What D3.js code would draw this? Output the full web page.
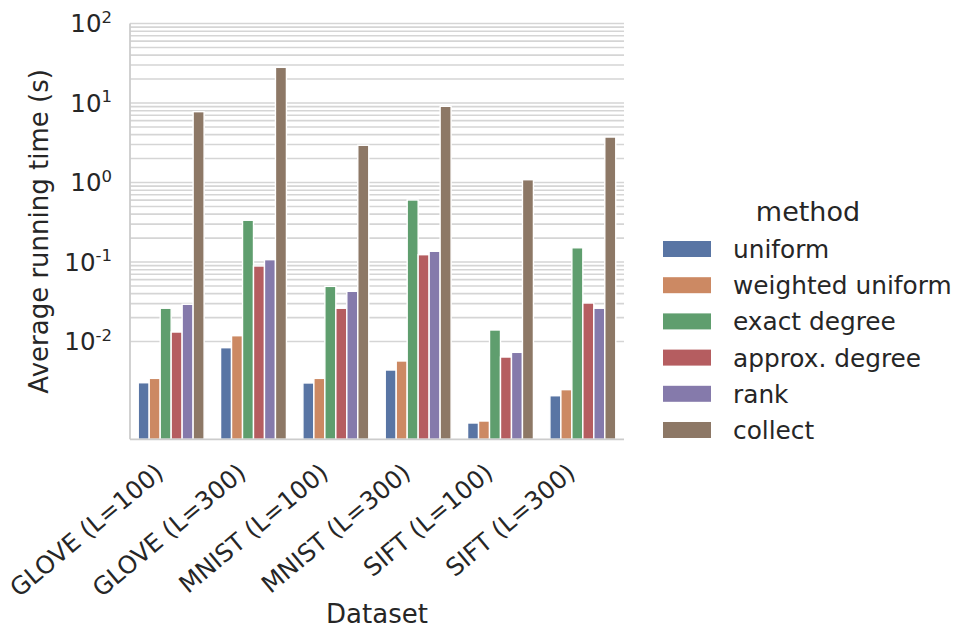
<!DOCTYPE html>
<html>
<head>
<meta charset="utf-8">
<script src="https://cdn.jsdelivr.net/npm/d3@7"></script>
<style>
  html, body { margin: 0; padding: 0; background: #fff; }
  svg { display: block; font-family: "DejaVu Sans", sans-serif; }
</style>
</head>
<body>
<svg id="chart" width="954" height="629"></svg>
<script>
// Dataset groups on the x axis
const datasets = ["GLOVE (L=100)", "GLOVE (L=300)", "MNIST (L=100)", "MNIST (L=300)", "SIFT (L=100)", "SIFT (L=300)"];
// Methods (hue)
const methods = ["uniform", "weighted uniform", "exact degree", "approx. degree", "rank", "collect"];
const methodColors = ["#5975a4", "#cc8963", "#5f9e6e", "#b55d60", "#857aab", "#8d7866"];

// Average running time (s) per method, in dataset order
const uniformTimes         = [0.00303, 0.00836, 0.00301, 0.00438, 0.000944, 0.00208];
const weightedUniformTimes = [0.00344, 0.01183, 0.00344, 0.00569, 0.00100, 0.00248];
const exactDegreeTimes     = [0.0262, 0.335, 0.0494, 0.603, 0.01396, 0.151];
const approxDegreeTimes    = [0.01316, 0.0891, 0.0262, 0.1236, 0.00638, 0.0305];
const rankTimes            = [0.0294, 0.107, 0.0428, 0.1364, 0.00731, 0.0262];
const collectTimes         = [7.78, 28.1, 2.94, 9.09, 1.084, 3.73];

// Labelled decades on the y axis (powers of ten)
const yTickExponents = [-2, -1, 0, 1, 2];

const seriesValues = [uniformTimes, weightedUniformTimes, exactDegreeTimes, approxDegreeTimes, rankTimes, collectTimes];

const svg = d3.select("#chart");
const textColor = "#262626";
const gridColor = "#d5d5d5";

const plot = { left: 130, right: 624, top: 23.5, bottom: 439.3 };

const y = d3.scaleLog()
  .domain([Math.pow(10, -3.23), 100])
  .range([plot.bottom, plot.top]);

const x = d3.scaleBand()
  .domain(datasets)
  .range([plot.left, plot.right])
  .paddingInner(0.2)
  .paddingOuter(0.1);

const xInner = d3.scaleBand()
  .domain(methods)
  .range([0, x.bandwidth()]);

const color = d3.scaleOrdinal().domain(methods).range(methodColors);

// Grid: major and minor log lines from 10^-2 upward
const gridValues = y.ticks().filter(v => v >= 0.0099 && v <= 100.01);
svg.append("g")
  .selectAll("line")
  .data(gridValues)
  .join("line")
  .attr("x1", plot.left)
  .attr("x2", plot.right)
  .attr("y1", d => y(d))
  .attr("y2", d => y(d))
  .attr("stroke", gridColor)
  .attr("stroke-width", 1.6);

// Bars
const rows = [];
datasets.forEach((ds, i) => {
  methods.forEach((m, j) => {
    rows.push({ dataset: ds, method: m, value: seriesValues[j][i] });
  });
});

svg.append("g")
  .selectAll("rect")
  .data(rows)
  .join("rect")
  .attr("x", d => x(d.dataset) + xInner(d.method))
  .attr("width", xInner.bandwidth())
  .attr("y", d => y(d.value))
  .attr("height", d => plot.bottom - y(d.value))
  .attr("fill", d => color(d.method))
  .attr("stroke", "#ffffff")
  .attr("stroke-width", 1.4);

// Spines
svg.append("line")
  .attr("x1", plot.left).attr("x2", plot.left)
  .attr("y1", plot.top).attr("y2", plot.bottom)
  .attr("stroke", "#cccccc").attr("stroke-width", 1.8);
svg.append("line")
  .attr("x1", plot.left).attr("x2", plot.right)
  .attr("y1", plot.bottom).attr("y2", plot.bottom)
  .attr("stroke", "#cccccc").attr("stroke-width", 1.8);

// Y tick labels as 10 with superscript exponent
const yTicks = svg.append("g")
  .selectAll("text")
  .data(yTickExponents)
  .join("text")
  .attr("x", 112)
  .attr("y", d => y(Math.pow(10, d)) + 8.8)
  .attr("text-anchor", "end")
  .attr("fill", textColor)
  .attr("font-size", 24.5);
yTicks.append("tspan").text("10");
yTicks.append("tspan")
  .attr("font-size", 16.5)
  .attr("dy", -9.5)
  .text(d => String(d));

// X tick labels, rotated
svg.append("g")
  .selectAll("text")
  .data(datasets)
  .join("text")
  .attr("transform", d => `translate(${x(d) + x.bandwidth() / 2 - 6},${plot.bottom + 36}) rotate(-40)`)
  .attr("text-anchor", "end")
  .attr("fill", textColor)
  .attr("font-size", 24.5)
  .text(d => d);

// Axis titles
svg.append("text")
  .attr("x", (plot.left + plot.right) / 2)
  .attr("y", 623)
  .attr("text-anchor", "middle")
  .attr("fill", textColor)
  .attr("font-size", 26)
  .text("Dataset");

svg.append("text")
  .attr("transform", `translate(48,${(plot.top + plot.bottom) / 2}) rotate(-90)`)
  .attr("text-anchor", "middle")
  .attr("fill", textColor)
  .attr("font-size", 26)
  .text("Average running time (s)");

// Legend
const legend = svg.append("g");
legend.append("text")
  .attr("x", 808)
  .attr("y", 221)
  .attr("text-anchor", "middle")
  .attr("fill", textColor)
  .attr("font-size", 27)
  .text("method");

const items = legend.selectAll("g.item")
  .data(methods)
  .join("g")
  .attr("class", "item")
  .attr("transform", (d, i) => `translate(0,${249 + i * 36.2})`);

items.append("rect")
  .attr("x", 663)
  .attr("y", -8)
  .attr("width", 48)
  .attr("height", 16)
  .attr("fill", d => color(d));

items.append("text")
  .attr("x", 733)
  .attr("y", 9)
  .attr("fill", textColor)
  .attr("font-size", 24.8)
  .text(d => d);
</script>
</body>
</html>
